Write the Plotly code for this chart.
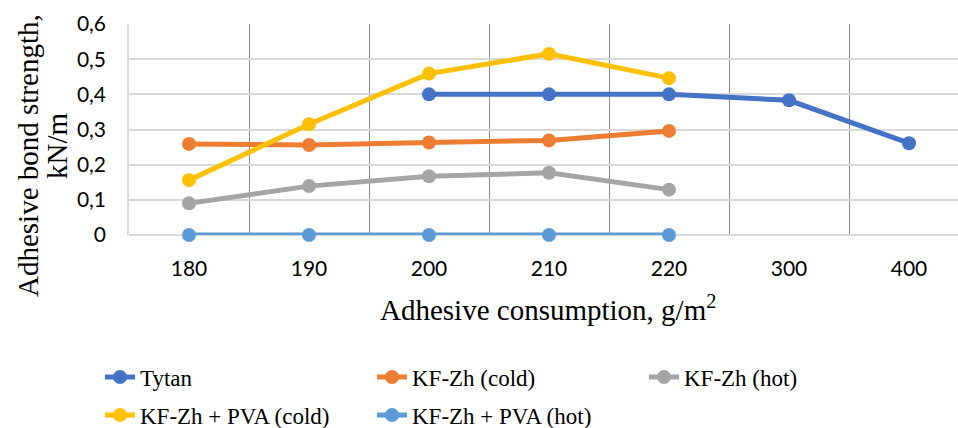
import plotly.graph_objects as go

categories = ["180", "190", "200", "210", "220", "300", "400"]
tytan = [None, None, 0.40, 0.40, 0.40, 0.383, 0.261]
kfzh_cold = [0.259, 0.256, 0.263, 0.269, 0.296, None, None]
kfzh_hot = [0.090, 0.139, 0.167, 0.177, 0.129, None, None]
pva_cold = [0.156, 0.315, 0.459, 0.515, 0.446, None, None]
pva_hot = [0.0, 0.0, 0.0, 0.0, 0.0, None, None]

series = [
    ("Tytan", tytan, "#4472C4", "legend"),
    ("KF-Zh (cold)", kfzh_cold, "#ED7D31", "legend"),
    ("KF-Zh (hot)", kfzh_hot, "#A5A5A5", "legend"),
    ("KF-Zh + PVA (cold)", pva_cold, "#FFC000", "legend2"),
    ("KF-Zh + PVA (hot)", pva_hot, "#5B9BD5", "legend2"),
]

fig = go.Figure()
for name, vals, color, lg in series:
    fig.add_trace(go.Scatter(
        x=categories, y=vals, name=name, mode="lines+markers",
        line=dict(color=color, width=5),
        marker=dict(color=color, size=14),
        cliponaxis=False, connectgaps=False, legend=lg,
    ))

L, T, B = 129, 24, 235
W, H = 958, 428
PW, PH = W - L, B - T


def px_x(p):
    return (p - L) / PW


def px_y(p):
    return (B - p) / PH


serif = "Liberation Serif, Times New Roman, serif"
sans = "Lato"


def make_legend(ypix):
    return dict(
        orientation="h", xref="container", yref="container",
        xanchor="left", yanchor="middle",
        x=100 / W, y=1 - ypix / H,
        entrywidth=227, entrywidthmode="pixels",
        font=dict(family=serif, size=23, color="#000000"),
        itemwidth=30, bgcolor="rgba(0,0,0,0)", borderwidth=0,
    )


fig.update_layout(
    width=W, height=H,
    margin=dict(l=L, r=0, t=T, b=H - B, pad=0, autoexpand=False),
    plot_bgcolor="white", paper_bgcolor="white",
    font=dict(family=serif, size=21, color="#000000"),
    separators=",.",
    showlegend=True,
    legend=make_legend(377),
    legend2=make_legend(415),
    xaxis=dict(
        type="category", range=[-0.5, -0.5 + PW / 120.0],
        tickson="boundaries", showgrid=True, gridcolor="#8C8C8C", gridwidth=1,
        ticks="", showline=False, zeroline=False, automargin=False,
        ticklabelstandoff=19,
        tickfont=dict(family=sans, size=21, color="#000"),
    ),
    yaxis=dict(
        range=[0, 0.6], dtick=0.1, automargin=False,
        showgrid=True, gridcolor="#D9D9D9", gridwidth=1.5,
        zeroline=True, zerolinecolor="#D9D9D9", zerolinewidth=2,
        showline=True, linecolor="#D9D9D9", linewidth=1.5,
        ticks="", ticklabelstandoff=17,
        tickfont=dict(family=sans, size=21, color="#000"),
    ),
    annotations=[
        dict(text="Adhesive bond strength,", textangle=-90,
             xref="paper", yref="paper", x=px_x(28), y=px_y(156),
             xanchor="center", yanchor="middle", showarrow=False,
             font=dict(family=serif, size=29, color="#000")),
        dict(text="kN/m", textangle=-90,
             xref="paper", yref="paper", x=px_x(57), y=px_y(146),
             xanchor="center", yanchor="middle", showarrow=False,
             font=dict(family=serif, size=29, color="#000")),
        dict(text="Adhesive consumption, g/m<sup>2</sup>",
             xref="paper", yref="paper", x=px_x(548), y=px_y(308),
             xanchor="center", yanchor="middle", showarrow=False,
             font=dict(family=serif, size=29, color="#000")),
    ],
)

fig.write_html("out.html")
